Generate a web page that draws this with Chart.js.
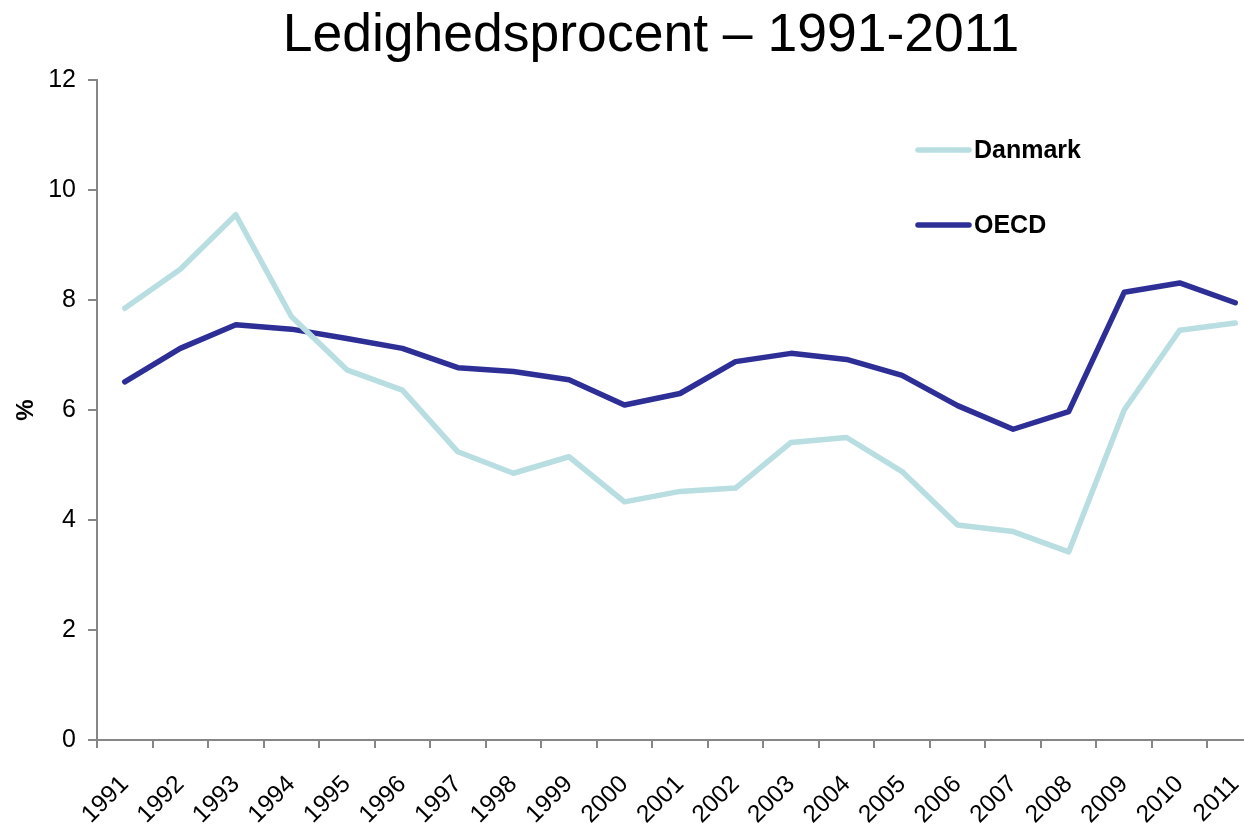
<!DOCTYPE html>
<html>
<head>
<meta charset="utf-8">
<script src="https://cdn.jsdelivr.net/npm/chart.js@4/dist/chart.umd.min.js"></script>
<style>
  html, body { margin: 0; padding: 0; background: #ffffff; overflow: hidden; width: 1244px; height: 827px; }
  #wrap { position: absolute; left: 0; top: 0; width: 1302px; height: 827px; }
</style>
</head>
<body>
<div id="wrap"><canvas id="c" width="1302" height="827"></canvas></div>
<script>
const titleText = 'Ledighedsprocent \u2013 1991-2011';
const yAxisTitle = '%';
const years = ['1991','1992','1993','1994','1995','1996','1997','1998','1999','2000','2001','2002','2003','2004','2005','2006','2007','2008','2009','2010','2011'];
const seriesNames = ['Danmark', 'OECD'];
const danmark = [7.85, 8.56, 9.55, 7.70, 6.73, 6.36, 5.24, 4.85, 5.15, 4.33, 4.52, 4.58, 5.41, 5.50, 4.88, 3.91, 3.79, 3.42, 6.00, 7.45, 7.58];
const oecd = [6.51, 7.12, 7.55, 7.47, 7.30, 7.12, 6.77, 6.70, 6.55, 6.09, 6.30, 6.88, 7.03, 6.92, 6.63, 6.08, 5.65, 5.97, 8.14, 8.31, 7.95];
const yTicks = [0, 2, 4, 6, 8, 10, 12];

const FONT = '"Liberation Sans", Arial, Helvetica, sans-serif';
const AXIS = '#868686';

const titleCenterPlugin = {
  id: 'titleCenter',
  afterLayout(chart) {
    const t = chart.titleBlock;
    if (t) { t.left = 0; t.right = chart.width; }
  }
};

const legendPlugin = {
  id: 'sideLegend',
  afterDatasetsDraw(chart) {
    const ctx = chart.ctx;
    ctx.save();
    chart.data.datasets.forEach((ds, i) => {
      const y = 150 + 75 * i;
      ctx.strokeStyle = ds.borderColor;
      ctx.lineWidth = ds.borderWidth;
      ctx.lineCap = 'round';
      ctx.beginPath();
      ctx.moveTo(918, y);
      ctx.lineTo(969, y);
      ctx.stroke();
      ctx.fillStyle = '#000000';
      ctx.font = 'bold 25px ' + FONT;
      ctx.textAlign = 'left';
      ctx.textBaseline = 'middle';
      ctx.fillText(ds.label, 974, y + 1);
    });
    ctx.restore();
  }
};

new Chart(document.getElementById('c'), {
  type: 'line',
  data: {
    labels: years,
    datasets: [
      { label: seriesNames[0], data: danmark, borderColor: '#B8DEE1', backgroundColor: '#B8DEE1', borderWidth: 5.5, pointRadius: 0, tension: 0, borderJoinStyle: 'round', borderCapStyle: 'round' },
      { label: seriesNames[1], data: oecd, borderColor: '#2E2F96', backgroundColor: '#2E2F96', borderWidth: 5.5, pointRadius: 0, tension: 0, borderJoinStyle: 'round', borderCapStyle: 'round' }
    ]
  },
  options: {
    responsive: false,
    animation: false,
    devicePixelRatio: 1,
    layout: { padding: { left: 0, right: 39, top: 0, bottom: 0 } },
    plugins: {
      legend: { display: false },
      tooltip: { enabled: false },
      title: {
        display: true,
        text: titleText,
        color: '#000000',
        font: { family: FONT, size: 53.5, weight: 'normal', lineHeight: 1.2 },
        padding: { top: 4, bottom: 11.8 }
      }
    },
    scales: {
      x: {
        type: 'category',
        offset: true,
        grid: { offset: true, drawOnChartArea: false, drawTicks: true, tickLength: 8, color: AXIS, lineWidth: 2 },
        border: { display: true, color: AXIS, width: 2 },
        ticks: { color: '#000000', font: { family: FONT, size: 24.5 }, minRotation: 45, maxRotation: 45, autoSkip: false, padding: 22 },
        afterFit(scale) { scale.height = 87; }
      },
      y: {
        min: 0,
        max: 12,
        afterBuildTicks(scale) { scale.ticks = yTicks.map(v => ({ value: v })); },
        grid: { drawOnChartArea: false, drawTicks: true, tickLength: 9, color: AXIS, lineWidth: 2 },
        border: { display: true, color: AXIS, width: 2 },
        ticks: { color: '#000000', font: { family: FONT, size: 25 }, padding: 12 },
        title: { display: true, text: yAxisTitle, color: '#000000', font: { family: FONT, size: 24, weight: 'bold' }, padding: { top: 12, bottom: 0 } },
        afterFit(scale) { scale.width = 97; }
      }
    }
  },
  plugins: [titleCenterPlugin, legendPlugin]
});
</script>
</body>
</html>
